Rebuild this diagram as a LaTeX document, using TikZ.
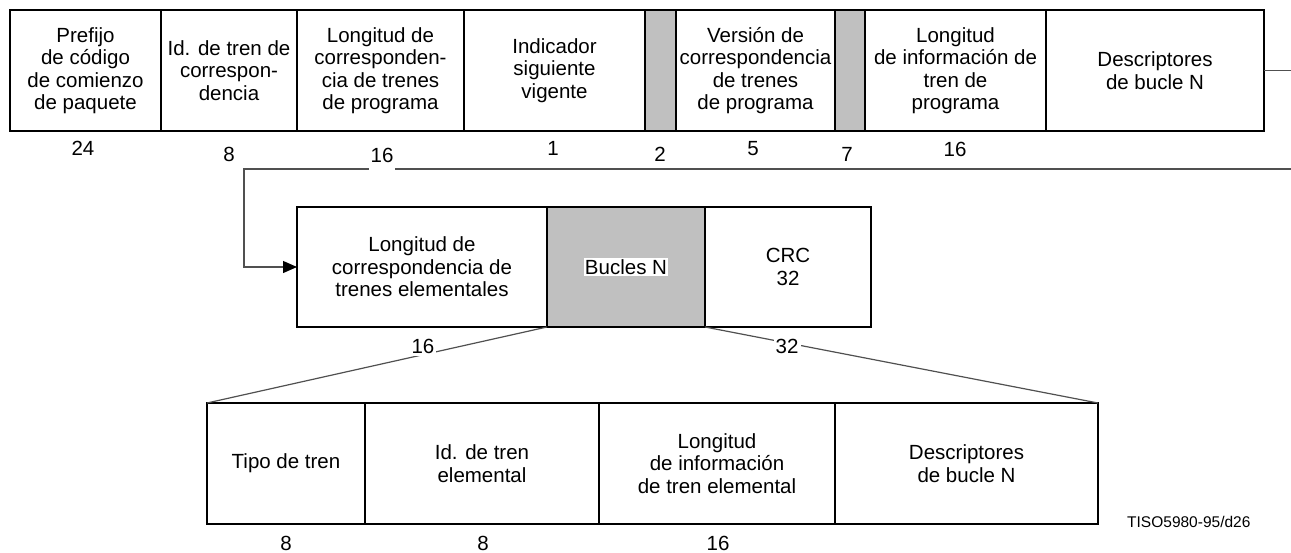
\documentclass[tikz,border=0pt]{standalone}
\usepackage{fontspec}
\usepackage{graphicx}
\setmainfont{Liberation Sans}
\usetikzlibrary{arrows.meta}
\definecolor{cellgray}{HTML}{C0C0C0}
\definecolor{conncol}{HTML}{505050}
\begin{document}
\begin{tikzpicture}[x=1pt,y=-1pt,
  cell/.style={draw=black, line width=1.3pt, inner sep=0pt, outer sep=0pt, align=center,
    font=\fontsize{20.5}{22.5}\selectfont},
  greycell/.style={cell, fill=cellgray},
  toprow/.style={minimum height=121pt},
  midrow/.style={minimum height=120pt},
  botrow/.style={minimum height=121pt},
  num/.style={inner sep=0pt, font=\fontsize{20.5}{22.5}\selectfont},
  numlbl/.style={num, fill=white, inner xsep=2pt, inner ysep=2pt},
  conn/.style={draw=conncol, line width=1.2pt},
]
\useasboundingbox (0,0) rectangle (1291,552);

% top row
\node[cell, toprow, minimum width=151pt] (t1) at (85.5,70.5) {Prefijo\\de código\\de comienzo\\de paquete};
\node[cell, toprow, minimum width=136pt] (t2) at (229,70.5) {Id. de tren de\\correspon-\\dencia};
\node[cell, toprow, minimum width=167pt] (t3) at (380.5,70.5) {Longitud de\\corresponden-\\cia de trenes\\de programa};
\node[cell, toprow, minimum width=181pt] (t4) at (554.5,70.5) {Indicador\\siguiente\\vigente};
\node[greycell, toprow, minimum width=31pt] (g1) at (660.5,70.5) {};
\node[cell, toprow, minimum width=159pt] (t5) at (755.5,70.5) {Versión de\\correspondencia\\de trenes\\de programa};
\node[greycell, toprow, minimum width=30pt] (g2) at (850,70.5) {};
\node[cell, toprow, minimum width=181pt] (t6) at (955.5,70.5) {Longitud\\de información de\\tren de\\programa};
\node[cell, toprow, minimum width=218pt] (t7) at (1155,70.5) {Descriptores\\de bucle N};

% middle row
\node[cell, midrow, minimum width=250pt] (m1) at (422,267) {Longitud de\\correspondencia de\\trenes elementales};
\node[greycell, midrow, minimum width=158pt] (m2) at (626,267) {};
\node[num, fill=white, inner sep=1pt] (m2l) at (m2.center) {Bucles N};
\node[cell, midrow, minimum width=166pt] (m3) at (788,267) {CRC\\32};

% connector from top row to middle row
\coordinate (e1) at (1291,70.5);
\coordinate (e2) at (1291,169);
\coordinate (c2) at (244,169);
\draw[conn] (t7.east) -- (e1);
\draw[conn, -{Triangle[length=14pt,width=12pt,color=black]}] (e2) -- (c2) |- (m1.west);

% numbers under top row
\node[num] (n1) at (83,148) {24};
\node[num] (n2) at (229,154) {8};
\node[num, fill=white, inner xsep=2pt, inner ysep=8pt] (n3) at (382,155) {16};
\node[num] (n4) at (553,148.5) {1};
\node[num] (n5) at (660,154) {2};
\node[num] (n6) at (753,149) {5};
\node[num] (n7) at (847,154) {7};
\node[num] (n8) at (955,149) {16};

% bottom row
\node[cell, botrow, minimum width=158pt] (b1) at (286,463.5) {Tipo de tren};
\node[cell, botrow, minimum width=234pt] (b2) at (482,463.5) {Id. de tren\\elemental};
\node[cell, botrow, minimum width=236pt] (b3) at (717,463.5) {Longitud\\de información\\de tren elemental};
\node[cell, botrow, minimum width=263pt] (b4) at (966.5,463.5) {Descriptores\\de bucle N};

% expansion lines
\draw[conn] (m2.south west) -- (b1.north west) node[numlbl, pos=0.365, yshift=8pt] (l16) {16};
\draw[conn] (m2.south east) -- (b4.north east) node[numlbl, pos=0.209, yshift=-4pt] (l32) {32};

% numbers under bottom row
\node[num] (k1) at (286,543) {8};
\node[num] (k2) at (483,543) {8};
\node[num] (k3) at (718,543) {16};

\node[anchor=base west, inner sep=0pt, font=\fontsize{15.5}{17}\selectfont] (tiso) at (1127,527) {TISO5980-95/d26};
\end{tikzpicture}
\end{document}
